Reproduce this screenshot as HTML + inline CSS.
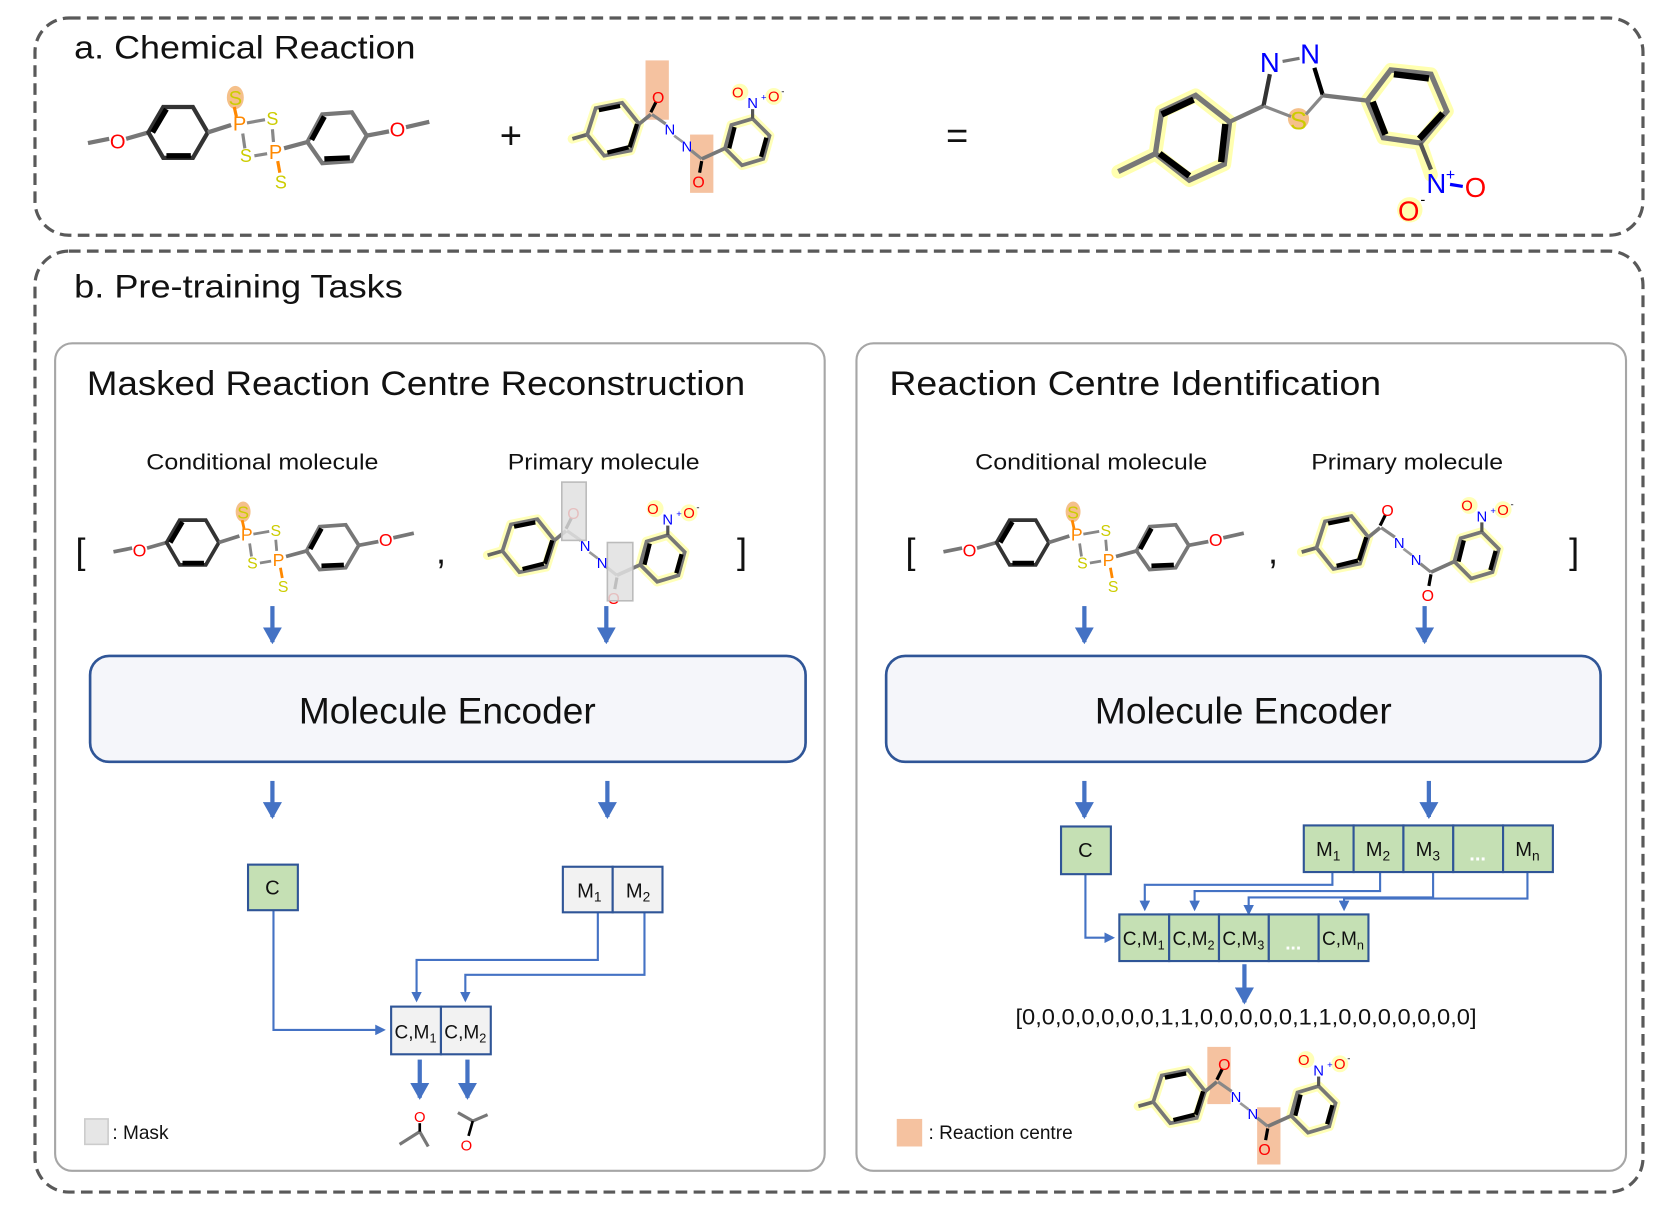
<!DOCTYPE html>
<html><head><meta charset="utf-8"><style>
html,body{margin:0;padding:0;background:#fff;}
svg{display:block;}
text{font-family:"Liberation Sans","DejaVu Sans",sans-serif;}
</style></head><body>
<svg width="1661" height="1209" viewBox="0 0 1567 1141" preserveAspectRatio="none" xmlns="http://www.w3.org/2000/svg">
<defs>
<marker id="ah" markerWidth="10" markerHeight="10" refX="8" refY="5" orient="auto" markerUnits="userSpaceOnUse"><path d="M0,0 L10,5 L0,10 z" fill="#4472C4"/></marker>
<marker id="bh" markerWidth="18" markerHeight="16" refX="9" refY="14" orient="0" markerUnits="userSpaceOnUse"><path d="M0,0 L18,0 L9,16 z" fill="#4472C4"/></marker>

<g id="cond">
 <line x1="83" y1="135" x2="103" y2="131" stroke="#777" stroke-width="4"/>
 <text x="111" y="140" font-size="19" fill="#f00" text-anchor="middle">O</text>
 <line x1="119" y1="131" x2="140" y2="125" stroke="#777" stroke-width="4"/>
 <polygon points="140,125 154,101 182,101 196,125 182,149 154,149" fill="none" stroke="#333" stroke-width="4"/>
 <line x1="144" y1="125" x2="157" y2="103" stroke="#000" stroke-width="5"/>
 <line x1="157" y1="147" x2="180" y2="147" stroke="#000" stroke-width="5"/>
 <line x1="196" y1="125" x2="218" y2="118" stroke="#777" stroke-width="4"/>
 <ellipse cx="222" cy="92" rx="8" ry="11" fill="#f5c08a"/>
 <text x="222" y="99" font-size="19" fill="#cc0" text-anchor="middle">S</text>
 <line x1="221" y1="101" x2="223" y2="110" stroke="#f80" stroke-width="3"/>
 <text x="226" y="123" font-size="19" fill="#f80" text-anchor="middle">P</text>
 <line x1="233" y1="116" x2="250" y2="113" stroke="#888" stroke-width="3"/>
 <text x="257" y="118" font-size="17" fill="#cc0" text-anchor="middle">S</text>
 <line x1="229" y1="126" x2="231" y2="140" stroke="#888" stroke-width="3"/>
 <text x="232" y="153" font-size="17" fill="#cc0" text-anchor="middle">S</text>
 <line x1="240" y1="147" x2="252" y2="145" stroke="#888" stroke-width="3"/>
 <line x1="257" y1="122" x2="258" y2="134" stroke="#888" stroke-width="3"/>
 <text x="260" y="150" font-size="19" fill="#f80" text-anchor="middle">P</text>
 <line x1="262" y1="152" x2="264" y2="163" stroke="#f80" stroke-width="3"/>
 <text x="265" y="178" font-size="17" fill="#cc0" text-anchor="middle">S</text>
 <line x1="268" y1="140" x2="290" y2="134" stroke="#777" stroke-width="4"/>
 <polygon points="290,134 304,108 332,106 346,128 332,152 304,154" fill="none" stroke="#777" stroke-width="4"/>
 <line x1="294" y1="132" x2="306" y2="110" stroke="#000" stroke-width="5"/>
 <line x1="306" y1="150" x2="330" y2="149" stroke="#000" stroke-width="5"/>
 <line x1="346" y1="128" x2="367" y2="124" stroke="#777" stroke-width="4"/>
 <text x="375" y="129" font-size="19" fill="#f00" text-anchor="middle">O</text>
 <line x1="383" y1="120" x2="405" y2="115" stroke="#777" stroke-width="4"/>
</g>

<g id="prim">
 <g stroke="#ffffb8" stroke-width="9" fill="none" stroke-linejoin="round" stroke-linecap="round">
  <polygon points="554,127 562,102 587,97 603,117 595,142 570,147"/>
  <polygon points="684,140 690,118 710,112 726,128 720,150 700,156"/>
  <line x1="540" y1="131" x2="554" y2="127"/>
 </g>
 <circle cx="698" cy="87" r="8" fill="#ffffb8"/><circle cx="730" cy="91" r="8" fill="#ffffb8"/>
 <line x1="540" y1="131" x2="554" y2="127" stroke="#666" stroke-width="3.5"/>
 <polygon points="554,127 562,102 587,97 603,117 595,142 570,147" fill="none" stroke="#777" stroke-width="3.5"/>
 <line x1="565" y1="104" x2="585" y2="100" stroke="#000" stroke-width="4"/>
 <line x1="573" y1="144" x2="593" y2="139" stroke="#000" stroke-width="4"/>
 <line x1="601" y1="117" x2="594" y2="139" stroke="#000" stroke-width="4"/>
 <line x1="603" y1="117" x2="614" y2="108" stroke="#777" stroke-width="3.5"/>
 <line x1="614" y1="106" x2="619" y2="96" stroke="#000" stroke-width="3"/>
 <text x="621" y="97" font-size="15" fill="#f00" text-anchor="middle">O</text>
 <line x1="615" y1="108" x2="628" y2="117" stroke="#888" stroke-width="3"/>
 <text x="632" y="127" font-size="14" fill="#00f" text-anchor="middle">N</text>
 <line x1="636" y1="128" x2="644" y2="134" stroke="#999" stroke-width="2.5"/>
 <text x="648" y="143" font-size="14" fill="#00f" text-anchor="middle">N</text>
 <line x1="652" y1="142" x2="662" y2="150" stroke="#888" stroke-width="3"/>
 <line x1="662" y1="152" x2="660" y2="163" stroke="#000" stroke-width="3"/>
 <text x="659" y="177" font-size="15" fill="#f00" text-anchor="middle">O</text>
 <line x1="662" y1="150" x2="684" y2="140" stroke="#777" stroke-width="3.5"/>
 <polygon points="684,140 690,118 710,112 726,128 720,150 700,156" fill="none" stroke="#777" stroke-width="3.5"/>
 <line x1="688" y1="140" x2="693" y2="120" stroke="#000" stroke-width="4"/>
 <line x1="723" y1="130" x2="718" y2="148" stroke="#000" stroke-width="4"/>
 <line x1="710" y1="112" x2="710" y2="103" stroke="#555" stroke-width="3"/>
 <text x="710" y="102" font-size="14" fill="#00f" text-anchor="middle">N</text>
 <text x="718" y="95" font-size="9" fill="#00f">+</text>
 <text x="696" y="92" font-size="14" fill="#f00" text-anchor="middle">O</text>
 <text x="730" y="96" font-size="14" fill="#f00" text-anchor="middle">O</text>
 <text x="737" y="89" font-size="9" fill="#000">-</text>
</g>
</defs>

<rect x="33" y="17" width="1517" height="205" rx="32" fill="none" stroke="#595959" stroke-width="3" stroke-dasharray="11,6"/>
<rect x="33" y="237" width="1517" height="888" rx="32" fill="none" stroke="#595959" stroke-width="3" stroke-dasharray="11,6"/>
<text x="70" y="55" font-size="31" fill="#111" textLength="322" lengthAdjust="spacingAndGlyphs">a. Chemical Reaction</text>
<text x="70" y="281" font-size="31" fill="#111" textLength="310" lengthAdjust="spacingAndGlyphs">b. Pre-training Tasks</text>

<use href="#cond"/>
<text x="482" y="140" font-size="36" fill="#111" text-anchor="middle">+</text>
<rect x="609" y="57" width="22" height="56" fill="#f5c2a0"/>
<rect x="651" y="127" width="22" height="55" fill="#f5c2a0"/>
<use href="#prim"/>
<text x="903" y="140" font-size="36" fill="#111" text-anchor="middle">=</text>

<g>
 <g stroke="#ffffb0" stroke-width="13" fill="none" stroke-linejoin="round" stroke-linecap="round">
  <polygon points="1090,145 1096,105 1128,90 1160,115 1155,155 1122,170"/>
  <line x1="1055" y1="162" x2="1090" y2="145"/>
  <polygon points="1290,95 1312,66 1350,70 1365,105 1340,135 1305,130"/>
  <line x1="1340" y1="135" x2="1350" y2="165"/>
 </g>
 <circle cx="1225" cy="112" r="10" fill="#f5c08a"/>
 <circle cx="1330" cy="198" r="12" fill="#ffffb0"/>
 <line x1="1055" y1="162" x2="1090" y2="145" stroke="#777" stroke-width="5"/>
 <polygon points="1090,145 1096,105 1128,90 1160,115 1155,155 1122,170" fill="none" stroke="#777" stroke-width="5"/>
 <line x1="1096" y1="108" x2="1126" y2="94" stroke="#000" stroke-width="6"/>
 <line x1="1094" y1="145" x2="1122" y2="166" stroke="#000" stroke-width="6"/>
 <line x1="1156" y1="117" x2="1152" y2="153" stroke="#000" stroke-width="6"/>
 <line x1="1160" y1="115" x2="1192" y2="100" stroke="#777" stroke-width="4"/>
 <line x1="1192" y1="100" x2="1198" y2="70" stroke="#333" stroke-width="4"/>
 <text x="1198" y="68" font-size="26" fill="#00f" text-anchor="middle">N</text>
 <line x1="1210" y1="58" x2="1226" y2="55" stroke="#777" stroke-width="3"/>
 <text x="1236" y="60" font-size="26" fill="#00f" text-anchor="middle">N</text>
 <line x1="1240" y1="64" x2="1248" y2="90" stroke="#000" stroke-width="4"/>
 <line x1="1248" y1="90" x2="1232" y2="108" stroke="#888" stroke-width="3"/>
 <line x1="1192" y1="100" x2="1218" y2="110" stroke="#888" stroke-width="3"/>
 <text x="1225" y="122" font-size="24" fill="#cc0" text-anchor="middle">S</text>
 <line x1="1248" y1="90" x2="1290" y2="95" stroke="#777" stroke-width="4"/>
 <polygon points="1290,95 1312,66 1350,70 1365,105 1340,135 1305,130" fill="none" stroke="#777" stroke-width="5"/>
 <line x1="1315" y1="70" x2="1348" y2="74" stroke="#000" stroke-width="6"/>
 <line x1="1295" y1="96" x2="1307" y2="127" stroke="#000" stroke-width="6"/>
 <line x1="1361" y1="107" x2="1339" y2="131" stroke="#000" stroke-width="6"/>
 <line x1="1340" y1="135" x2="1350" y2="160" stroke="#555" stroke-width="4"/>
 <text x="1355" y="182" font-size="26" fill="#00f" text-anchor="middle">N</text>
 <text x="1364" y="170" font-size="15" fill="#00f">+</text>
 <line x1="1368" y1="174" x2="1380" y2="176" stroke="#00f" stroke-width="3"/>
 <text x="1392" y="186" font-size="26" fill="#f00" text-anchor="middle">O</text>
 <text x="1329" y="208" font-size="26" fill="#f00" text-anchor="middle">O</text>
 <text x="1340" y="193" font-size="14" fill="#000">-</text>
</g>

<rect x="52" y="324" width="726" height="781" rx="16" fill="none" stroke="#a6a6a6" stroke-width="2"/>
<rect x="808" y="324" width="726" height="781" rx="16" fill="none" stroke="#a6a6a6" stroke-width="2"/>
<text x="82" y="373" font-size="32" fill="#111" textLength="621" lengthAdjust="spacingAndGlyphs">Masked Reaction Centre Reconstruction</text>
<text x="839" y="373" font-size="32" fill="#111" textLength="464" lengthAdjust="spacingAndGlyphs">Reaction Centre Identification</text>

<g font-size="21" fill="#111">
 <text x="138" y="443" textLength="219" lengthAdjust="spacingAndGlyphs">Conditional molecule</text>
 <text x="479" y="443" textLength="181" lengthAdjust="spacingAndGlyphs">Primary molecule</text>
 <text x="920" y="443" textLength="219" lengthAdjust="spacingAndGlyphs">Conditional molecule</text>
 <text x="1237" y="443" textLength="181" lengthAdjust="spacingAndGlyphs">Primary molecule</text>
</g>
<g font-size="34" fill="#111" text-anchor="middle">
 <text x="76" y="532">[</text><text x="416" y="532">,</text><text x="700" y="532">]</text>
 <text x="859" y="532">[</text><text x="1201" y="532">,</text><text x="1485" y="532">]</text>
</g>

<use href="#cond" transform="translate(34,402) scale(0.88)"/>
<use href="#cond" transform="translate(817,402) scale(0.88)"/>
<use href="#prim" transform="translate(-80,393)"/>
<rect x="530" y="455" width="23" height="55" fill="#e0e0e0" fill-opacity="0.85" stroke="#bbb" stroke-width="1.5"/>
<rect x="573" y="512" width="24" height="55" fill="#e0e0e0" fill-opacity="0.85" stroke="#bbb" stroke-width="1.5"/>
<use href="#prim" transform="translate(688,390)"/>

<g stroke="#4472C4" stroke-width="4" marker-end="url(#bh)">
 <line x1="257" y1="572" x2="257" y2="606"/>
 <line x1="572" y1="572" x2="572" y2="606"/>
 <line x1="1023" y1="572" x2="1023" y2="606"/>
 <line x1="1344" y1="572" x2="1344" y2="606"/>
 <line x1="257" y1="737" x2="257" y2="771"/>
 <line x1="573" y1="737" x2="573" y2="771"/>
 <line x1="1023" y1="737" x2="1023" y2="771"/>
 <line x1="1348" y1="737" x2="1348" y2="771"/>
 <line x1="396" y1="1000" x2="396" y2="1036"/>
 <line x1="441" y1="1000" x2="441" y2="1036"/>
 <line x1="1174" y1="910" x2="1174" y2="946"/>
</g>

<rect x="85" y="619" width="675" height="100" rx="18" fill="#f5f6fa" stroke="#2F5597" stroke-width="2.5"/>
<rect x="836" y="619" width="674" height="100" rx="18" fill="#f5f6fa" stroke="#2F5597" stroke-width="2.5"/>
<text x="422" y="683" font-size="35" fill="#111" text-anchor="middle">Molecule Encoder</text>
<text x="1173" y="683" font-size="35" fill="#111" text-anchor="middle">Molecule Encoder</text>

<g fill="none" stroke="#4472C4" stroke-width="2">
 <polyline points="258,859 258,972 362,972" marker-end="url(#ah)"/>
 <polyline points="564,861 564,906 393,906 393,944" marker-end="url(#ah)"/>
 <polyline points="608,861 608,920 439,920 439,944" marker-end="url(#ah)"/>
</g>
<rect x="234" y="816" width="47" height="43" fill="#C5E0B4" stroke="#2F5597" stroke-width="2"/>
<text x="257" y="844" font-size="19" fill="#111" text-anchor="middle">C</text>
<rect x="531" y="818" width="47" height="43" fill="#f2f2f2" stroke="#2F5597" stroke-width="2"/>
<rect x="578" y="818" width="47" height="43" fill="#f2f2f2" stroke="#2F5597" stroke-width="2"/>
<text x="556" y="847" font-size="19" fill="#111" text-anchor="middle">M<tspan font-size="13" dy="4">1</tspan></text>
<text x="602" y="847" font-size="19" fill="#111" text-anchor="middle">M<tspan font-size="13" dy="4">2</tspan></text>
<rect x="369" y="950" width="47" height="45" fill="#f2f2f2" stroke="#2F5597" stroke-width="2"/>
<rect x="416" y="950" width="47" height="45" fill="#f2f2f2" stroke="#2F5597" stroke-width="2"/>
<text x="392" y="980" font-size="18" fill="#111" text-anchor="middle">C,M<tspan font-size="12" dy="4">1</tspan></text>
<text x="439" y="980" font-size="18" fill="#111" text-anchor="middle">C,M<tspan font-size="12" dy="4">2</tspan></text>
<g>
 <line x1="377" y1="1080" x2="396" y2="1068" stroke="#777" stroke-width="3"/>
 <line x1="396" y1="1068" x2="404" y2="1082" stroke="#777" stroke-width="3"/>
 <line x1="396" y1="1068" x2="396" y2="1060" stroke="#000" stroke-width="2.5"/>
 <text x="396" y="1059" font-size="14" fill="#f00" text-anchor="middle">O</text>
 <line x1="432" y1="1050" x2="446" y2="1058" stroke="#777" stroke-width="3"/>
 <line x1="446" y1="1058" x2="460" y2="1052" stroke="#777" stroke-width="3"/>
 <line x1="446" y1="1058" x2="442" y2="1072" stroke="#000" stroke-width="2.5"/>
 <text x="440" y="1086" font-size="14" fill="#f00" text-anchor="middle">O</text>
</g>
<rect x="80" y="1056" width="22" height="24" fill="#e6e6e6" stroke="#ccc" stroke-width="1.5"/>
<text x="106" y="1075" font-size="18" fill="#111">: Mask</text>

<g fill="none" stroke="#4472C4" stroke-width="2">
 <polyline points="1024,825 1024,885 1050,885" marker-end="url(#ah)"/>
 <polyline points="1257,823 1257,835 1080,835 1080,858" marker-end="url(#ah)"/>
 <polyline points="1302,823 1302,841 1127,841 1127,858" marker-end="url(#ah)"/>
 <polyline points="1352,823 1352,847 1178,847 1178,862" marker-end="url(#ah)"/>
 <polyline points="1441,823 1441,848 1268,848 1268,858" marker-end="url(#ah)"/>
</g>
<rect x="1001" y="780" width="47" height="45" fill="#C5E0B4" stroke="#2F5597" stroke-width="2"/>
<text x="1024" y="809" font-size="19" fill="#111" text-anchor="middle">C</text>
<g fill="#C5E0B4" stroke="#2F5597" stroke-width="2">
 <rect x="1230" y="779" width="47" height="44"/><rect x="1277" y="779" width="47" height="44"/>
 <rect x="1324" y="779" width="47" height="44"/><rect x="1371" y="779" width="47" height="44"/>
 <rect x="1418" y="779" width="47" height="44"/>
 <rect x="1056" y="863" width="47" height="44"/><rect x="1103" y="863" width="47" height="44"/>
 <rect x="1150" y="863" width="47" height="44"/><rect x="1197" y="863" width="47" height="44"/>
 <rect x="1244" y="863" width="47" height="44"/>
</g>
<g font-size="19" fill="#111" text-anchor="middle">
 <text x="1253" y="808">M<tspan font-size="13" dy="4">1</tspan></text>
 <text x="1300" y="808">M<tspan font-size="13" dy="4">2</tspan></text>
 <text x="1347" y="808">M<tspan font-size="13" dy="4">3</tspan></text>
 <text x="1394" y="812" fill="#fff" font-weight="bold">...</text>
 <text x="1441" y="808">M<tspan font-size="13" dy="4">n</tspan></text>
</g>
<g font-size="18" fill="#111" text-anchor="middle">
 <text x="1079" y="892">C,M<tspan font-size="12" dy="4">1</tspan></text>
 <text x="1126" y="892">C,M<tspan font-size="12" dy="4">2</tspan></text>
 <text x="1173" y="892">C,M<tspan font-size="12" dy="4">3</tspan></text>
 <text x="1220" y="896" fill="#fff" font-weight="bold">...</text>
 <text x="1267" y="892">C,M<tspan font-size="12" dy="4">n</tspan></text>
</g>
<text x="958" y="967" font-size="21" fill="#111" textLength="435" lengthAdjust="spacingAndGlyphs">[0,0,0,0,0,0,0,1,1,0,0,0,0,0,1,1,0,0,0,0,0,0,0]</text>
<rect x="1139" y="988" width="22" height="54" fill="#f5c2a0"/>
<rect x="1186" y="1045" width="22" height="54" fill="#f5c2a0"/>
<use href="#prim" transform="translate(534,913)"/>
<rect x="846" y="1056" width="24" height="26" fill="#f5c2a0"/>
<text x="876" y="1075" font-size="18" fill="#111">: Reaction centre</text>
</svg>
</body></html>
